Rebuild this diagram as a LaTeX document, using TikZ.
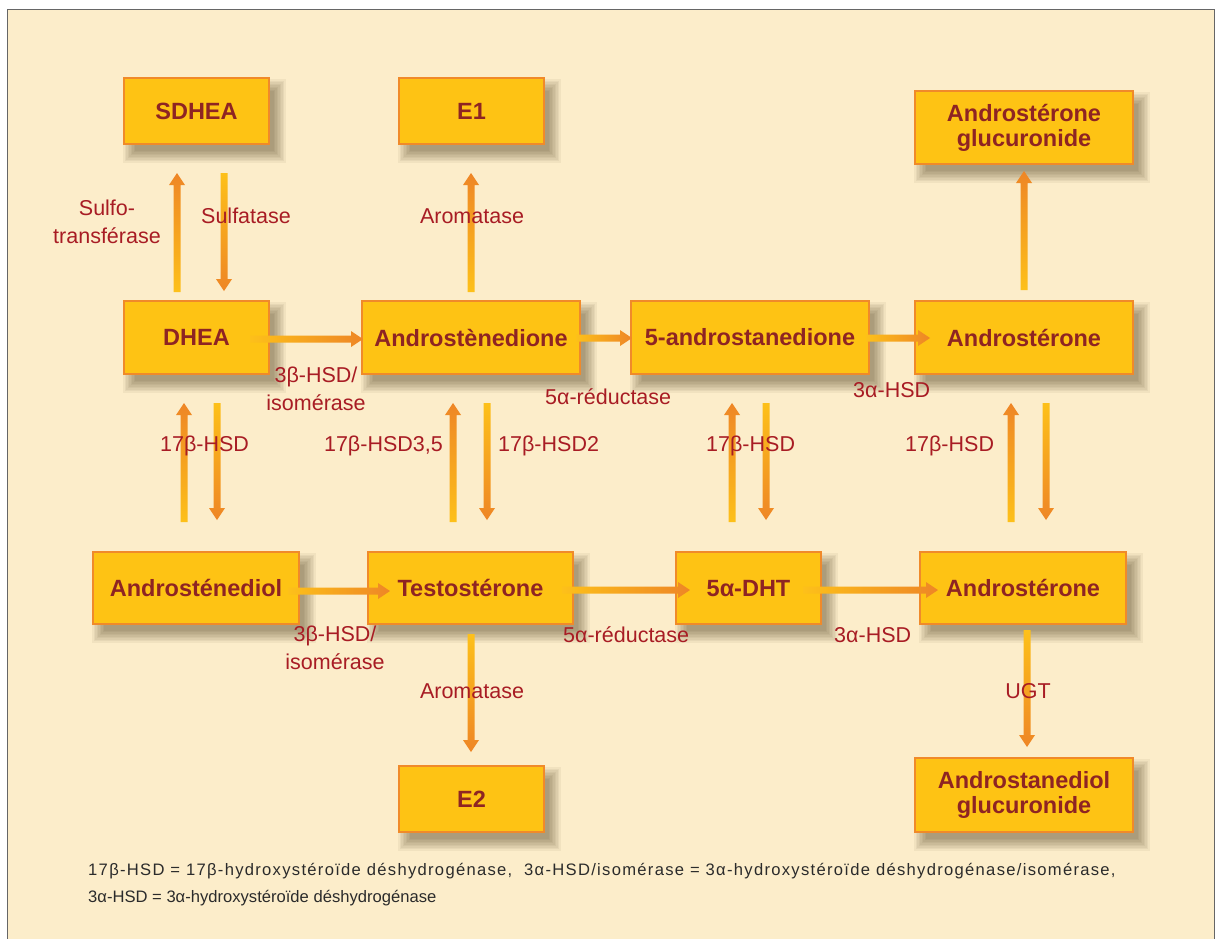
\documentclass[tikz,border=0pt]{standalone}
\usepackage{fontspec}
\setmainfont{Liberation Sans}
\usetikzlibrary{calc}
\definecolor{cream}{HTML}{FCEDCA}
\definecolor{boxfill}{HTML}{FEC314}
\definecolor{boxborder}{HTML}{F08A2A}
\definecolor{boxtext}{HTML}{8E2423}
\definecolor{labred}{HTML}{A81C24}
\definecolor{ayel}{HTML}{FDC01A}
\definecolor{aorg}{HTML}{EE8626}
\definecolor{foot}{HTML}{2B2B2B}
\definecolor{shad}{HTML}{3A2A10}
\pgfdeclarelayer{bg}
\pgfdeclarelayer{shadowlayer}
\pgfsetlayers{bg,shadowlayer,main}
\tikzset{
  box/.style={draw=boxborder, line width=1.2pt, fill=boxfill, text=boxtext,
    font=\bfseries\fontsize{23.5}{25}\selectfont, align=center, inner sep=0pt},
  lab/.style={text=labred, font=\fontsize{21.5}{28}\selectfont, inner sep=0pt},
  footnote/.style={text=foot, font=\fontsize{16.6}{27}\selectfont, inner sep=0pt, align=left}
}
% gradient arrows: right, up, down (y axis points down)
\newcommand\arR[2]{\path[left color=ayel,right color=aorg]
  ($(#1)+(0,-3.5)$) -- ($(#2)+(-12,-3.5)$) -- ($(#2)+(-12,-8)$) -- (#2) --
  ($(#2)+(-12,8)$) -- ($(#2)+(-12,3.5)$) -- ($(#1)+(0,3.5)$) -- cycle;}
\newcommand\arU[2]{\path[bottom color=ayel,top color=aorg]
  ($(#1)+(-3.5,0)$) -- ($(#2)+(-3.5,12)$) -- ($(#2)+(-8,12)$) -- (#2) --
  ($(#2)+(8,12)$) -- ($(#2)+(3.5,12)$) -- ($(#1)+(3.5,0)$) -- cycle;}
\newcommand\arD[2]{\path[top color=ayel,bottom color=aorg]
  ($(#1)+(-3.5,0)$) -- ($(#2)+(-3.5,-12)$) -- ($(#2)+(-8,-12)$) -- (#2) --
  ($(#2)+(8,-12)$) -- ($(#2)+(3.5,-12)$) -- ($(#1)+(3.5,0)$) -- cycle;}
\begin{document}
\begin{tikzpicture}[x=1pt,y=-1pt]
\useasboundingbox (0,0) rectangle (1217,938);
\begin{pgfonlayer}{bg}
\fill[white] (0,0) rectangle (1217,938);
\draw[fill=cream, draw=gray!80!black, line width=1pt] (7,9) rectangle (1214,950);
\end{pgfonlayer}

% boxes
\node[box, minimum width=145pt, minimum height=66pt] (SDHEA) at (196.5,111) {SDHEA};
\node[box, minimum width=145pt, minimum height=66pt] (E1) at (471.5,111) {E1};
\node[box, minimum width=218pt, minimum height=73pt] (AGtop) at (1024,127.5) {Androstérone\\glucuronide};
\node[box, minimum width=145pt, minimum height=73pt] (DHEA) at (196.5,337.5) {DHEA};
\node[box, minimum width=218pt, minimum height=73pt] (Adione) at (471,337.5) {Androstènedione};
\node[box, minimum width=238pt, minimum height=73pt] (Fdione) at (750,337.5) {5-androstanedione};
\node[box, minimum width=218pt, minimum height=73pt] (AndT) at (1024,337.5) {Androstérone};
\node[box, minimum width=206pt, minimum height=72pt] (Adiol) at (196,588) {Androsténediol};
\node[box, minimum width=205pt, minimum height=72pt] (Testo) at (470.5,588) {Testostérone};
\node[box, minimum width=145pt, minimum height=72pt, text depth=0pt] (DHT) at (748.5,588) {5α-DHT};
\node[box, minimum width=206pt, minimum height=72pt] (AndB) at (1023,588) {Androstérone};
\node[box, minimum width=145pt, minimum height=66pt] (E2) at (471.5,799) {E2};
\node[box, minimum width=218pt, minimum height=74pt] (AGbot) at (1024,795) {Androstanediol\\glucuronide};

% soft shadows
\begin{pgfonlayer}{shadowlayer}
\foreach \n in {SDHEA,E1,AGtop,DHEA,Adione,Fdione,AndT,Adiol,Testo,DHT,AndB,E2,AGbot}{
  \foreach \k in {0,...,8}{
    \fill[shad, opacity=0.055] ($(\n.north west)+(8+4-1.5*\k,10+4-1.5*\k)$) rectangle ($(\n.south east)+(8-4+1.5*\k,10-4+1.5*\k)$);
  }
}
\end{pgfonlayer}

% arrow end points
\coordinate (s1a) at (177,292); \coordinate (s1b) at (177,173);
\coordinate (s2a) at (224,173); \coordinate (s2b) at (224,291);
\coordinate (e1a) at (471,292); \coordinate (e1b) at (471,173);
\coordinate (g1a) at (1024,290); \coordinate (g1b) at (1024,171);
\coordinate (h1a) at (250,339); \coordinate (h1b) at (363,339);
\coordinate (h2a) at (576,338); \coordinate (h2b) at (632,338);
\coordinate (h3a) at (866,338); \coordinate (h3b) at (930,338);
\coordinate (h4a) at (288,591); \coordinate (h4b) at (390,591);
\coordinate (h5a) at (562,590); \coordinate (h5b) at (690,590);
\coordinate (h6a) at (803,590); \coordinate (h6b) at (938,590);
\coordinate (v1a) at (184,522); \coordinate (v1b) at (184,403);
\coordinate (v2a) at (217,403); \coordinate (v2b) at (217,520);
\coordinate (v3a) at (453,522); \coordinate (v3b) at (453,403);
\coordinate (v4a) at (487,403); \coordinate (v4b) at (487,520);
\coordinate (v5a) at (732,522); \coordinate (v5b) at (732,403);
\coordinate (v6a) at (766,403); \coordinate (v6b) at (766,520);
\coordinate (v7a) at (1011,522); \coordinate (v7b) at (1011,403);
\coordinate (v8a) at (1046,403); \coordinate (v8b) at (1046,520);
\coordinate (t1a) at (471,634); \coordinate (t1b) at (471,752);
\coordinate (u1a) at (1027,630); \coordinate (u1b) at (1027,747);

% arrows
\arU{s1a}{s1b} \arD{s2a}{s2b}
\arU{e1a}{e1b} \arU{g1a}{g1b}
\arR{h1a}{h1b} \arR{h2a}{h2b} \arR{h3a}{h3b}
\arR{h4a}{h4b} \arR{h5a}{h5b} \arR{h6a}{h6b}
\arU{v1a}{v1b} \arD{v2a}{v2b}
\arU{v3a}{v3b} \arD{v4a}{v4b}
\arU{v5a}{v5b} \arD{v6a}{v6b}
\arU{v7a}{v7b} \arD{v8a}{v8b}
\arD{t1a}{t1b} \arD{u1a}{u1b}

% labels
\node[lab, align=center] (lsulfo) at (107,222) {Sulfo-\\transférase};
\node[lab, anchor=base west] (lsulfa) at (201,223) {Sulfatase};
\node[lab, anchor=base] (larom1) at (472,223) {Aromatase};
\node[lab, align=center] (lhsd1) at (316,389) {3β-HSD/\\isomérase};
\node[lab, anchor=base west] (lred1) at (545,404) {5α-réductase};
\node[lab, anchor=base west] (l3a1) at (853,397) {3α-HSD};
\node[lab, anchor=base west] (l17a) at (160,451) {17β-HSD};
\node[lab, anchor=base east] (l17b) at (443,451) {17β-HSD3,5};
\node[lab, anchor=base west] (l17c) at (498,451) {17β-HSD2};
\node[lab, anchor=base west] (l17d) at (706,451) {17β-HSD};
\node[lab, anchor=base west] (l17e) at (905,451) {17β-HSD};
\node[lab, align=center] (lhsd2) at (335,647.5) {3β-HSD/\\isomérase};
\node[lab, anchor=base west] (lred2) at (563,642) {5α-réductase};
\node[lab, anchor=base west] (l3a2) at (834,642) {3α-HSD};
\node[lab, anchor=base] (larom2) at (472,698) {Aromatase};
\node[lab, anchor=base] (lugt) at (1028,698) {UGT};

% footnote
\node[footnote, anchor=west] (fn) at (88,885) {{\addfontfeatures{LetterSpace=7.8}17β-HSD = 17β-hydroxystéroïde déshydrogénase,\ \ 3α-HSD/isomérase = 3α-hydroxystéroïde déshydrogénase/isomérase,}\\3α-HSD = 3α-hydroxystéroïde déshydrogénase};
\end{tikzpicture}
\end{document}
